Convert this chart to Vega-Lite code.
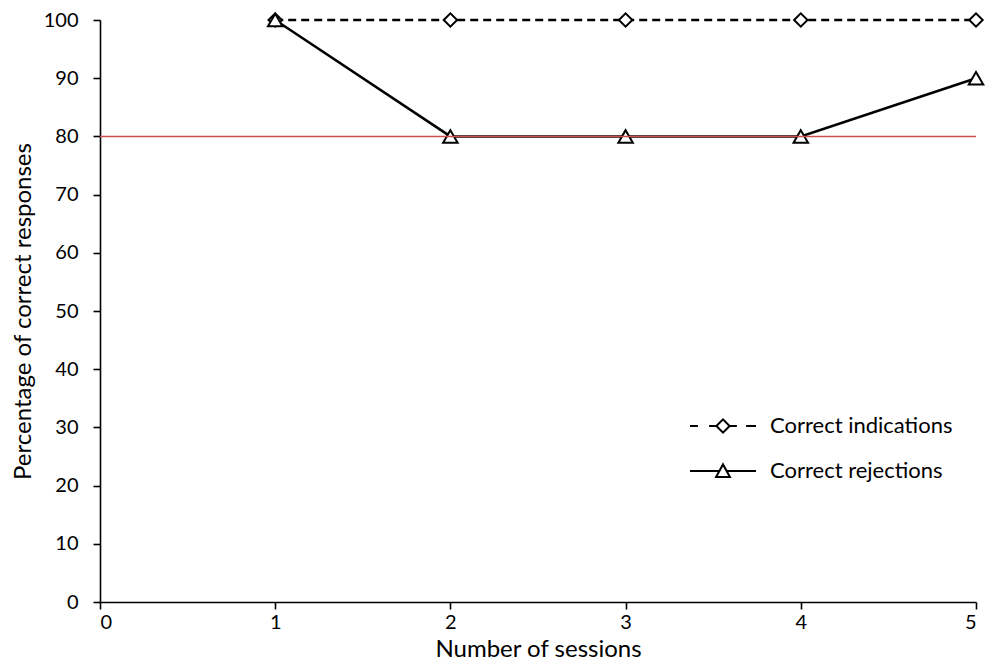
{
  "$schema": "https://vega.github.io/schema/vega-lite/v6.json",
  "width": 876,
  "height": 582,
  "autosize": {"type": "none"},
  "padding": {"left": 100, "top": 20, "right": 10, "bottom": 62},
  "background": "white",
  "config": {
    "font": "Lato",
    "view": {"stroke": null},
    "axis": {
      "grid": false,
      "domainColor": "black",
      "domainWidth": 1.6,
      "tickColor": "black",
      "tickWidth": 1.6,
      "tickSize": 7,
      "labelFont": "Lato",
      "labelFontSize": 20,
      "labelColor": "black",
      "titleFont": "Lato",
      "titleFontSize": 24,
      "titleFontWeight": "normal",
      "titleColor": "black"
    }
  },
  "datasets": {
    "main": [
      {"session": 1, "series": "Correct indications", "pct": 100},
      {"session": 2, "series": "Correct indications", "pct": 100},
      {"session": 3, "series": "Correct indications", "pct": 100},
      {"session": 4, "series": "Correct indications", "pct": 100},
      {"session": 5, "series": "Correct indications", "pct": 100},
      {"session": 1, "series": "Correct rejections", "pct": 100},
      {"session": 2, "series": "Correct rejections", "pct": 80},
      {"session": 3, "series": "Correct rejections", "pct": 80},
      {"session": 4, "series": "Correct rejections", "pct": 80},
      {"session": 5, "series": "Correct rejections", "pct": 90}
    ],
    "threshold": [{"criterion": 80}]
  },
  "layer": [
    {
      "data": {"name": "main"},
      "transform": [{"filter": "datum.series === 'Correct indications'"}],
      "mark": {"type": "line", "color": "black", "strokeWidth": 2.5, "strokeDash": [8, 5]},
      "encoding": {
        "x": {
          "field": "session",
          "type": "quantitative",
          "scale": {"domain": [0, 5], "nice": false, "zero": false},
          "axis": {"values": [0, 1, 2, 3, 4, 5], "format": "d", "title": "Number of sessions", "labelPadding": 3, "titlePadding": 5}
        },
        "y": {
          "field": "pct",
          "type": "quantitative",
          "scale": {"domain": [0, 100], "nice": false},
          "axis": {"values": [0, 10, 20, 30, 40, 50, 60, 70, 80, 90, 100], "title": "Percentage of correct responses", "labelPadding": 15, "titlePadding": 8}
        }
      }
    },
    {
      "data": {"name": "main"},
      "transform": [{"filter": "datum.series === 'Correct rejections'"}],
      "mark": {"type": "line", "color": "black", "strokeWidth": 2.5},
      "encoding": {
        "x": {"field": "session", "type": "quantitative"},
        "y": {"field": "pct", "type": "quantitative"}
      }
    },
    {
      "data": {"name": "main"},
      "transform": [{"filter": "datum.series === 'Correct indications'"}],
      "mark": {"type": "point", "shape": "diamond", "filled": true, "fill": "white", "stroke": "black", "strokeWidth": 2, "opacity": 1, "size": 180},
      "encoding": {
        "x": {"field": "session", "type": "quantitative"},
        "y": {"field": "pct", "type": "quantitative"}
      }
    },
    {
      "data": {"name": "main"},
      "transform": [{"filter": "datum.series === 'Correct rejections'"}],
      "mark": {"type": "point", "shape": "triangle-up", "filled": true, "fill": "white", "stroke": "black", "strokeWidth": 2, "opacity": 1, "size": 210},
      "encoding": {
        "x": {"field": "session", "type": "quantitative"},
        "y": {"field": "pct", "type": "quantitative"}
      }
    },
    {
      "data": {"name": "main"},
      "mark": {"type": "point", "filled": false, "stroke": "black", "strokeWidth": 2, "opacity": 0},
      "encoding": {
        "x": {"field": "session", "type": "quantitative"},
        "y": {"field": "pct", "type": "quantitative"},
        "shape": {
          "field": "series",
          "type": "nominal",
          "scale": {
            "domain": ["Correct indications", "Correct rejections"],
            "range": [
              "M-1,0L-0.76,0M-0.42,0L-0.2,0M0.2,0L0.42,0M0.7,0L1,0M-0.2,0L0,-0.2L0.2,0L0,0.2Z",
              "M-1,0L-0.1,0M0.1,0L1,0M-0.21,0.18L0,-0.2L0.21,0.18Z"
            ]
          },
          "legend": {
            "title": null,
            "orient": "none",
            "legendX": 589,
            "legendY": 372,
            "symbolSize": 4356,
            "symbolStrokeWidth": 2,
            "symbolStrokeColor": "black",
            "symbolFillColor": "white",
            "symbolOpacity": 1,
            "labelFont": "Lato",
            "labelFontSize": 22,
            "labelColor": "black",
            "labelOffset": 13,
            "labelLimit": 0,
            "rowPadding": -34,
            "encode": {
              "symbols": {
                "update": {
                  "opacity": {"value": 1},
                  "fill": {"value": "white"},
                  "stroke": {"value": "black"},
                  "strokeWidth": {"value": 2}
                }
              }
            }
          }
        }
      }
    },
    {
      "data": {"name": "threshold"},
      "mark": {"type": "rule", "color": "#c9504c", "strokeWidth": 1.5},
      "encoding": {
        "y": {"field": "criterion", "type": "quantitative"}
      }
    }
  ]
}
